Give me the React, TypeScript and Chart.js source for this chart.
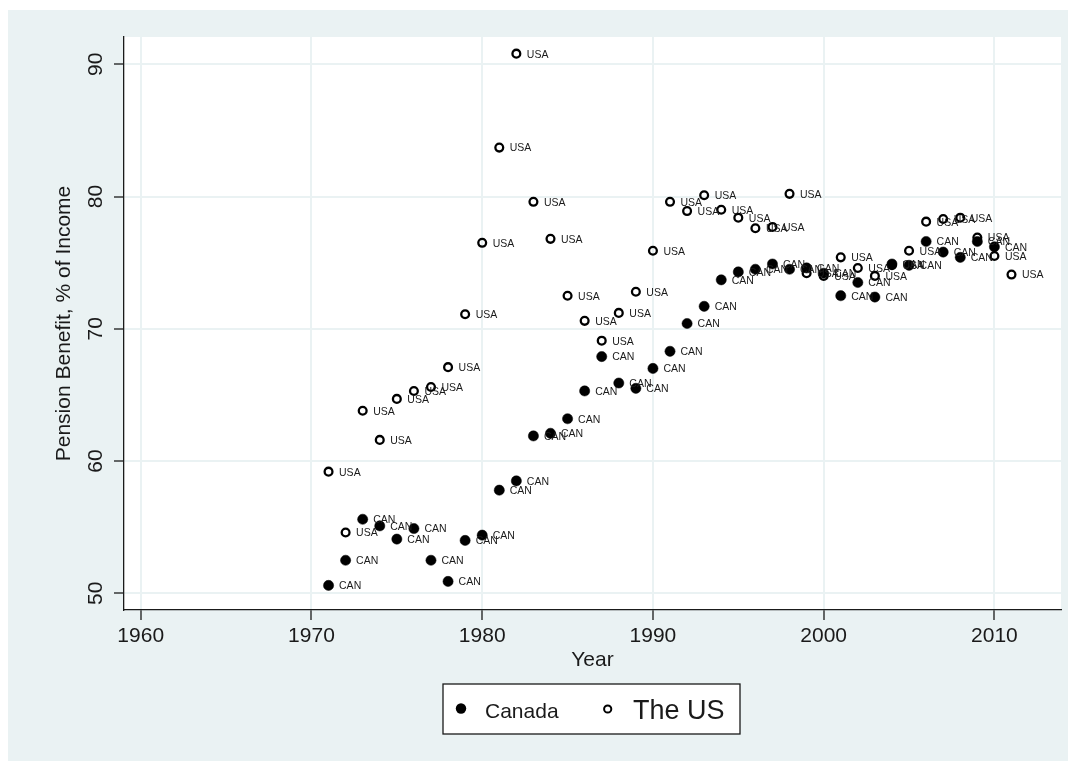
import React, { useEffect, useRef } from "react";
import { Chart, registerables } from "chart.js";

Chart.register(...registerables);

// ---- Data ----
const canYears = [
  1971, 1972, 1973, 1974, 1975, 1976, 1977, 1978, 1979, 1980,
  1981, 1982, 1983, 1984, 1985, 1986, 1987, 1988, 1989, 1990,
  1991, 1992, 1993, 1994, 1995, 1996, 1997, 1998, 1999, 2000,
  2001, 2002, 2003, 2004, 2005, 2006, 2007, 2008, 2009, 2010,
];
const canValues = [
  50.6, 52.5, 55.6, 55.1, 54.1, 54.9, 52.5, 50.9, 54.0, 54.4,
  57.8, 58.5, 61.9, 62.1, 63.2, 65.3, 67.9, 65.9, 65.5, 67.0,
  68.3, 70.4, 71.7, 73.7, 74.3, 74.5, 74.9, 74.5, 74.6, 74.2,
  72.5, 73.5, 72.4, 74.9, 74.8, 76.6, 75.8, 75.4, 76.6, 76.2,
];
const usYears = [
  1971, 1972, 1973, 1974, 1975, 1976, 1977, 1978, 1979, 1980,
  1981, 1982, 1983, 1984, 1985, 1986, 1987, 1988, 1989, 1990,
  1991, 1992, 1993, 1994, 1995, 1996, 1997, 1998, 1999, 2000,
  2001, 2002, 2003, 2004, 2005, 2006, 2007, 2008, 2009, 2010,
  2011,
];
const usValues = [
  59.2, 54.6, 63.8, 61.6, 64.7, 65.3, 65.6, 67.1, 71.1, 76.5,
  83.7, 90.8, 79.6, 76.8, 72.5, 70.6, 69.1, 71.2, 72.8, 75.9,
  79.6, 78.9, 80.1, 79.0, 78.4, 77.6, 77.7, 80.2, 74.2, 74.0,
  75.4, 74.6, 74.0, 74.8, 75.9, 78.1, 78.3, 78.4, 76.9, 75.5,
  74.1,
];
const xTicks = [1960, 1970, 1980, 1990, 2000, 2010];
const yTicks = [50, 60, 70, 80, 90];
const seriesNames = ["Canada", "The US"];
const pointLabels = ["CAN", "USA"];
const xTitle = "Year";
const yTitle = "Pension Benefit, % of Income";

// ---- Styles ----
const BG = "#eaf2f3";
const INK = "#1a1a1a";
const FONT = '"Liberation Sans", Arial, Helvetica, sans-serif';
const W = 1068;
const H = 751;

export default function App() {
  const ref = useRef<HTMLCanvasElement | null>(null);

  useEffect(() => {
    const canvas = ref.current;
    if (!canvas) return;

    const decor = {
      id: "decor",
      beforeDraw(chart: any) {
        const { ctx, chartArea: a } = chart;
        ctx.save();
        ctx.fillStyle = BG;
        ctx.fillRect(0, 0, chart.width, chart.height);
        ctx.fillStyle = "#ffffff";
        ctx.fillRect(a.left, a.top, a.right - a.left, a.bottom - a.top);
        ctx.restore();
      },
      afterDatasetsDraw(chart: any) {
        const { ctx } = chart;
        ctx.save();
        ctx.fillStyle = INK;
        ctx.font = `10.5px ${FONT}`;
        ctx.textAlign = "left";
        ctx.textBaseline = "middle";
        [0, 1].forEach((di) => {
          const meta = chart.getDatasetMeta(di);
          meta.data.forEach((pt: any) => {
            ctx.fillText(pointLabels[di], pt.x + 10.5, pt.y + 1);
          });
        });
        ctx.restore();
      },
      afterDraw(chart: any) {
        const { ctx, chartArea: a } = chart;
        const xs = chart.scales.x;
        const ys = chart.scales.y;
        ctx.save();
        ctx.fillStyle = INK;
        // y tick labels (rotated)
        ctx.font = `21px ${FONT}`;
        yTicks.forEach((v) => {
          const py = ys.getPixelForValue(v);
          ctx.save();
          ctx.translate(93.7, py);
          ctx.rotate(-Math.PI / 2);
          ctx.textAlign = "center";
          ctx.textBaseline = "alphabetic";
          ctx.fillText(String(v), 0, 0);
          ctx.restore();
        });
        // x tick labels
        ctx.textAlign = "center";
        ctx.textBaseline = "alphabetic";
        xTicks.forEach((v) => {
          ctx.fillText(String(v), xs.getPixelForValue(v), 632);
        });
        // axis titles
        const cx = (a.left + a.right) / 2;
        const cy = (a.top + a.bottom) / 2;
        ctx.fillText(xTitle, cx, 656);
        ctx.save();
        ctx.translate(61.5, cy);
        ctx.rotate(-Math.PI / 2);
        ctx.textAlign = "center";
        ctx.fillText(yTitle, 0, 0);
        ctx.restore();
        // legend
        ctx.fillStyle = "#ffffff";
        ctx.fillRect(435, 674, 297, 50);
        ctx.strokeStyle = INK;
        ctx.lineWidth = 1.3;
        ctx.strokeRect(435, 674, 297, 50);
        ctx.fillStyle = "#000";
        ctx.beginPath();
        ctx.arc(453, 698.5, 5.2, 0, Math.PI * 2);
        ctx.fill();
        ctx.beginPath();
        ctx.arc(599.7, 699, 3.6, 0, Math.PI * 2);
        ctx.lineWidth = 2;
        ctx.strokeStyle = "#000";
        ctx.stroke();
        ctx.fillStyle = INK;
        ctx.textAlign = "left";
        ctx.font = `21px ${FONT}`;
        ctx.fillText(seriesNames[0], 477, 707.7);
        ctx.font = `27px ${FONT}`;
        ctx.fillText(seriesNames[1], 625, 709.3);
        ctx.restore();
      },
    };

    const chart = new Chart(canvas, {
      type: "scatter",
      data: {
        datasets: [
          {
            label: seriesNames[0],
            data: canYears.map((yr, i) => ({ x: yr, y: canValues[i] })),
            pointStyle: "circle",
            pointRadius: 5.1,
            borderWidth: 0.5,
            backgroundColor: "#000",
            borderColor: "#000",
            order: 2,
          },
          {
            label: seriesNames[1],
            data: usYears.map((yr, i) => ({ x: yr, y: usValues[i] })),
            pointStyle: "circle",
            pointRadius: 3.9,
            borderWidth: 2.3,
            backgroundColor: "rgba(0,0,0,0)",
            borderColor: "#000",
            order: 1,
          },
        ],
      },
      options: {
        responsive: false,
        animation: false,
        events: [],
        layout: { padding: { left: 0, top: 27, right: 15, bottom: 0 } },
        plugins: {
          legend: { display: false },
          tooltip: { enabled: false },
          title: { display: false },
        },
        scales: {
          x: {
            type: "linear",
            min: 1959.02,
            max: 2013.9,
            afterBuildTicks: (s: any) => {
              s.ticks = xTicks.map((v) => ({ value: v }));
            },
            afterFit: (s: any) => {
              s.height = 151;
            },
            ticks: { display: false },
            grid: {
              color: BG,
              lineWidth: 2,
              drawTicks: true,
              tickLength: 10,
              tickColor: INK,
              tickWidth: 1.3,
            },
            border: { color: INK, width: 1.3 },
          },
          y: {
            type: "linear",
            min: 48.74,
            max: 92.06,
            afterBuildTicks: (s: any) => {
              s.ticks = yTicks.map((v) => ({ value: v }));
            },
            afterFit: (s: any) => {
              s.width = 116;
            },
            ticks: { display: false },
            grid: {
              color: BG,
              lineWidth: 2,
              drawTicks: true,
              tickLength: 10,
              tickColor: INK,
              tickWidth: 1.3,
            },
            border: { color: INK, width: 1.3 },
          },
        },
      },
      plugins: [decor],
    } as any);

    return () => chart.destroy();
  }, []);

  return (
    <div style={{ marginTop: 2 }}>
      <canvas ref={ref} width={W} height={H} style={{ display: "block", width: W, height: H }} />
    </div>
  );
}
